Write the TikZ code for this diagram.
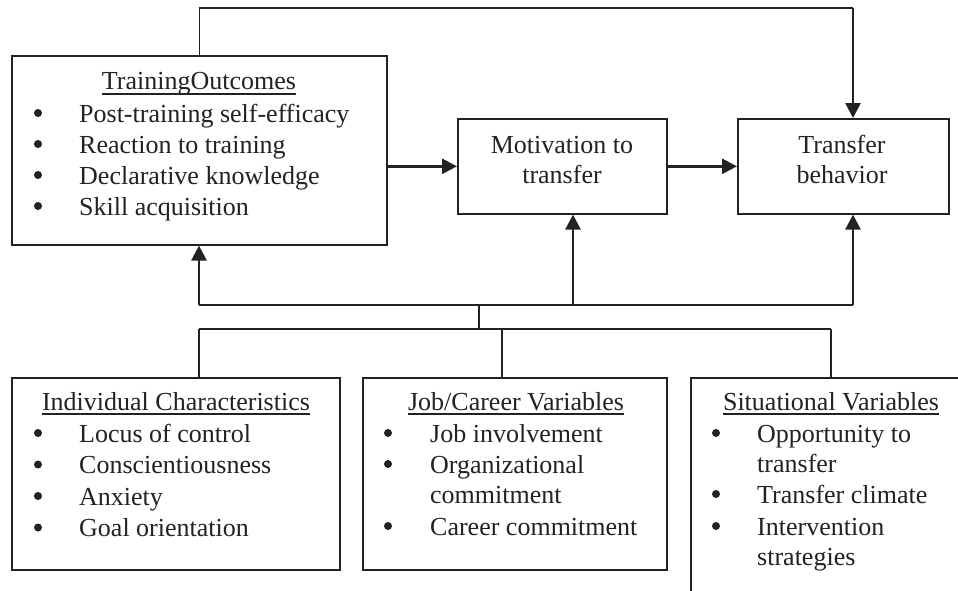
\documentclass[tikz,border=0pt]{standalone}
\usepackage{fontspec}
\setmainfont{Liberation Serif}
\usetikzlibrary{arrows.meta}
\definecolor{ink}{HTML}{222222}
\begin{document}
\begin{tikzpicture}[x=1pt,y=-1pt,
  box/.style={draw=ink, line width=1.6pt, anchor=north west, inner sep=0pt},
  conn/.style={draw=ink, line width=1.6pt},
  arr/.style={draw=ink, line width=2.6pt, -{Triangle[length=15pt,width=15pt]}},
  txt/.style={anchor=base west, inner sep=0pt, font=\fontsize{26}{30}\selectfont, text=ink},
  ctxt/.style={txt, anchor=base},
  bul/.style={circle, fill=ink, inner sep=0pt, minimum size=8pt},
  uline/.style={draw=ink, line width=1.3pt}]
\useasboundingbox (0,0) rectangle (958,590);
\fill[white] (0,0) rectangle (958,590);

% boxes
\node[box, minimum width=375pt, minimum height=189pt] (to) at (11,55) {};
\node[box, minimum width=209pt, minimum height=95pt] (mt) at (457,118) {};
\node[box, minimum width=211pt, minimum height=95pt] (tb) at (737,118) {};
\node[box, minimum width=328pt, minimum height=192pt] (ic) at (11,377) {};
\node[box, minimum width=304pt, minimum height=192pt] (jc) at (362,377) {};
\begin{scope}
  \clip (0,0) rectangle (958,590);
  \node[box, minimum width=300pt, minimum height=260pt] (sv) at (690,377) {};
\end{scope}

% Training outcomes
\node[ctxt] (toT) at (199,89) {TrainingOutcomes};
\draw[uline] ([yshift=-5pt]toT.base west) -- ([yshift=-5pt]toT.base east);
\foreach \t [count=\i] in {Post-training self-efficacy,Reaction to training,Declarative knowledge,Skill acquisition}{
  \node[bul] (tob\i) at (38,{122+31*(\i-1)-9}) {};
  \node[txt] (toi\i) at (79,{122+31*(\i-1)}) {\t};
}

% Motivation / Transfer
\node[ctxt] (mt1) at (562,153) {Motivation to};
\node[ctxt] (mt2) at (562,183) {transfer};
\node[ctxt] (tb1) at (842,153) {Transfer};
\node[ctxt] (tb2) at (842,183) {behavior};

% Individual characteristics
\node[ctxt] (icT) at (176,410) {Individual Characteristics};
\draw[uline] ([yshift=-4pt]icT.base west) -- ([yshift=-4pt]icT.base east);
\foreach \t [count=\i] in {Locus of control,Conscientiousness,Anxiety,Goal orientation}{
  \node[bul] (icb\i) at (38,{442+31.5*(\i-1)-9}) {};
  \node[txt] (ici\i) at (79,{442+31.5*(\i-1)}) {\t};
}

% Job/Career variables
\node[ctxt] (jcT) at (516,410) {Job/Career Variables};
\draw[uline] ([yshift=-4pt]jcT.base west) -- ([yshift=-4pt]jcT.base east);
\node[bul] (jcb1) at (388,433) {};
\node[txt] (jci1) at (430,442) {Job involvement};
\node[bul] (jcb2) at (388,464) {};
\node[txt] (jci2) at (430,473) {Organizational};
\node[txt] (jci2b) at (430,503) {commitment};
\node[bul] (jcb3) at (388,526) {};
\node[txt] (jci3) at (430,535) {Career commitment};

% Situational variables
\node[ctxt] (svT) at (831,410) {Situational Variables};
\draw[uline] ([yshift=-4pt]svT.base west) -- ([yshift=-4pt]svT.base east);
\node[bul] (svb1) at (716,433) {};
\node[txt] (svi1) at (757,442) {Opportunity to};
\node[txt] (svi1b) at (757,472) {transfer};
\node[bul] (svb2) at (716,494) {};
\node[txt] (svi2) at (757,503) {Transfer climate};
\node[bul] (svb3) at (716,526) {};
\node[txt] (svi3) at (757,535) {Intervention};
\node[txt] (svi3b) at (757,565) {strategies};

% top feedback
\coordinate (tr) at (853,8);
\draw[conn] (to.north) |- (tr);
\draw[arr] (tr) -- (tr |- tb.north);

% main chain
\draw[arr] (to.east |- mt.west) -- (mt.west);
\draw[arr] (mt.east) -- (tb.west);

% upper bus
\coordinate (bL) at (199,305);
\coordinate (bM) at (573,305);
\coordinate (bR) at (853,305);
\coordinate (bJ) at (479,305);
\draw[conn] (bL) -- (bR);
\draw[arr] (bL) -- (bL |- to.south);
\draw[arr] (bM) -- (bM |- mt.south);
\draw[arr] (bR) -- (bR |- tb.south);

% lower bus
\coordinate (cJ) at (479,329);
\coordinate (cL) at (199,329);
\coordinate (cM) at (502,329);
\coordinate (cR) at (831,329);
\draw[conn] (bJ) -- (cJ);
\draw[conn] (cL) -- (cR);
\draw[conn] (cL) -- (cL |- ic.north);
\draw[conn] (cM) -- (cM |- jc.north);
\draw[conn] (cR) -- (cR |- sv.north);
\end{tikzpicture}
\end{document}
